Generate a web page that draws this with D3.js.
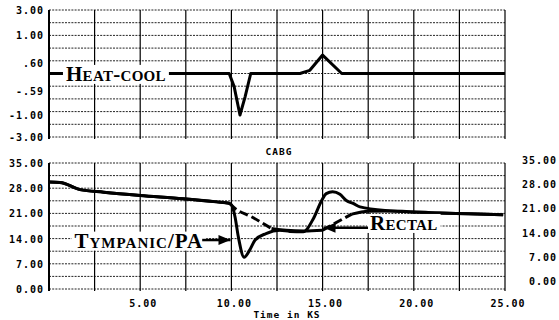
<!DOCTYPE html>
<html><head><meta charset="utf-8">
<script src="https://cdn.jsdelivr.net/npm/d3@7"></script>
<style>
body{margin:0;background:#fff;}
svg{display:block;}
.lab{font-family:"DejaVu Sans Mono",monospace;font-weight:bold;font-size:10px;letter-spacing:1px;fill:#000;}
.ann{font-family:"Liberation Serif","DejaVu Serif",serif;font-weight:bold;font-size:21px;font-variant:small-caps;fill:#000;}
</style></head>
<body>
<svg id="c" width="559" height="320"></svg>
<script>
// ---------- data ----------
const xTicks = [5, 10, 15, 20, 25];
const xTickLabels = ["5.00", "10.00", "15.00", "20.00", "25.00"];
const xGrid = [0, 2.5, 5, 7.5, 10, 12.5, 15, 17.5, 20, 22.5, 25];

const topTickValues = [3, 1.8, 0.5, -0.83, -1.96, -3];
const topTickLabels = ["3.00", "1.00", ".60", "-.59", "-1.00", "-3.00"];
const topGrid = [-3, -2.4, -1.8, -1.2, -0.6, 0, 0.6, 1.2, 1.8, 2.4, 3];

const botTickValues = [0, 7, 14, 21, 28, 35];
const botTickLabels = ["0.00", "7.00", "14.00", "21.00", "28.00", "35.00"];
const botGrid = [0, 3.5, 7, 10.5, 14, 17.5, 21, 24.5, 28, 31.5, 35];

// heat-cool (top panel)
const heatTime  = [0, 9.88, 10.15, 10.47, 10.75, 11.06, 13.76, 14.3, 15.0, 16.05, 25];
const heatValue = [0, 0, -0.62, -1.96, -1.1, 0, 0, 0.15, 0.87, 0, 0];

// tympanic/PA (solid)
const tympTime  = [0, 0.6, 1.7, 3.0, 5.0, 7.35, 9.2, 9.8, 10.0, 10.2, 10.38, 10.7, 11.0, 11.3, 11.9, 12.66, 13.2, 13.94, 14.5, 14.95, 15.2, 15.55, 15.95, 16.3, 16.7, 17.05, 18.7, 21.4, 23.0, 24.9];
const tympValue = [29.7, 29.6, 27.6, 26.9, 26.0, 25.1, 24.2, 23.9, 23.4, 20.0, 14.5, 8.8, 10.8, 13.6, 15.4, 16.3, 16.0, 15.9, 19.6, 24.6, 26.5, 27.0, 26.3, 24.6, 23.7, 22.8, 21.7, 21.1, 20.9, 20.6];

// rectal (dashed in places)
const rectTime  = [0, 0.6, 1.7, 3.0, 5.0, 7.35, 9.2, 9.9, 10.1, 11.2, 12.2, 13.0, 14.0, 15.0, 15.8, 16.6, 17.5, 18.7, 21.4, 23.0, 24.9];
const rectValue = [29.7, 29.6, 27.6, 26.9, 26.0, 25.1, 24.2, 23.8, 22.8, 19.8, 16.8, 16.3, 16.1, 16.3, 18.6, 20.8, 21.6, 21.7, 21.1, 20.9, 20.6];
const rectDashed = [[9.9, 12.2], [15.0, 16.6]];

// ---------- drawing ----------
const svg = d3.select("#c");
const x = d3.scaleLinear().domain([0, 25]).range([49, 505]);
const yT = d3.scaleLinear().domain([-3, 3]).range([137, 10]);
const yB = d3.scaleLinear().domain([0, 35]).range([289, 163]);
const yR = d3.scaleLinear().domain([0, 35]).range([281, 160]);

function panel(y, hGrid) {
  const g = svg.append("g");
  g.selectAll("line.h").data(hGrid).join("line")
    .attr("x1", x(0)).attr("x2", x(25))
    .attr("y1", d => y(d)).attr("y2", d => y(d))
    .attr("stroke", "#222").attr("stroke-width", 1)
    .attr("stroke-dasharray", "2,1.2");
  const y0 = y.range()[0], y1 = y.range()[1];
  g.selectAll("line.v").data(xGrid).join("line")
    .attr("x1", d => x(d)).attr("x2", d => x(d))
    .attr("y1", y1).attr("y2", y0 + 2)
    .attr("stroke", "#000")
    .attr("stroke-width", (d, i) => (i === 0 ? 2 : 1.2));
  return g;
}

panel(yT, topGrid);
panel(yB, botGrid);

svg.append("g").selectAll("text").data(topTickValues).join("text")
  .attr("class", "lab").attr("text-anchor", "end")
  .attr("x", 44).attr("y", d => yT(d) + 4)
  .text((d, i) => topTickLabels[i]);

svg.append("g").selectAll("text").data(botTickValues).join("text")
  .attr("class", "lab").attr("text-anchor", "end")
  .attr("x", 44).attr("y", d => yB(d) + 4)
  .text((d, i) => botTickLabels[i]);

svg.append("g").selectAll("text").data(botTickValues).join("text")
  .attr("class", "lab").attr("text-anchor", "end")
  .attr("x", 557).attr("y", d => yR(d) + 4)
  .text((d, i) => botTickLabels[i]);

svg.append("g").selectAll("text").data(xTicks).join("text")
  .attr("class", "lab").attr("text-anchor", "middle")
  .attr("x", d => x(d) + 3).attr("y", 307)
  .text((d, i) => xTickLabels[i]);

svg.append("text").attr("class", "lab").attr("text-anchor", "middle")
  .attr("x", 287).attr("y", 318).style("font-size", "9.5px").text("Time in KS");
svg.append("text").attr("class", "lab").attr("text-anchor", "middle")
  .attr("x", 279).attr("y", 155).style("font-size", "9.5px").text("CABG");

const heat = heatTime.map((t, i) => ({t, v: heatValue[i]}));
const tymp = tympTime.map((t, i) => ({t, v: tympValue[i]}));
const rect = rectTime.map((t, i) => ({t, v: rectValue[i]}));

const lineT = d3.line().x(d => x(d.t)).y(d => yT(d.v));
const mkB = () => d3.line().x(d => x(d.t)).y(d => yB(d.v)).curve(d3.curveMonotoneX);
const inDashOpen = t => rectDashed.some(([a, b]) => t > a && t < b);

svg.append("path").datum(heat).attr("d", lineT)
  .attr("fill", "none").attr("stroke", "#000").attr("stroke-width", 3).attr("stroke-linejoin", "round");

svg.append("path").attr("d", mkB().defined(d => !inDashOpen(d.t))(rect))
  .attr("fill", "none").attr("stroke", "#000").attr("stroke-width", 3);
rectDashed.forEach(([a, b]) => {
  const seg = rect.filter(d => d.t >= a && d.t <= b);
  svg.append("path").attr("d", mkB()(seg))
    .attr("fill", "none").attr("stroke", "#000").attr("stroke-width", 3)
    .attr("stroke-dasharray", "9,4");
});
svg.append("path").datum(tymp).attr("d", mkB())
  .attr("fill", "none").attr("stroke", "#000").attr("stroke-width", 3).attr("stroke-linejoin", "round");

function label(txt, tx, ty, ls) {
  const t = svg.append("text").attr("class", "ann").attr("x", tx).attr("y", ty)
    .style("letter-spacing", ls + "px").text(txt);
  const bb = t.node().getBBox();
  svg.insert("rect", "text.ann")
    .attr("x", bb.x - 3).attr("y", bb.y + 3).attr("width", bb.width + 6).attr("height", bb.height - 5)
    .attr("fill", "#fff");
  return bb;
}
const b1 = label("Heat-cool", x(0.93), yT(-0.35), 0.3);
const b2 = label("Tympanic/PA", x(1.4), yB(11.5), 1);
const b3 = label("Rectal", x(17.6), yB(16.4), 0.3);

function arrow(x1, y1, x2, y2) {
  svg.append("line").attr("x1", x1).attr("y1", y1).attr("x2", x2).attr("y2", y2)
    .attr("stroke", "#000").attr("stroke-width", 2.5);
  const dir = Math.sign(x2 - x1);
  svg.append("path")
    .attr("d", `M${x2},${y2} L${x2 - dir * 12},${y2 - 5} L${x2 - dir * 12},${y2 + 5} Z`)
    .attr("fill", "#000");
}
arrow(b2.x + b2.width - 1, yB(13.6), x(9.95), yB(13.6));
arrow(b3.x - 2, yB(17.0), x(15.05), yB(17.0));
</script>
</body></html>
